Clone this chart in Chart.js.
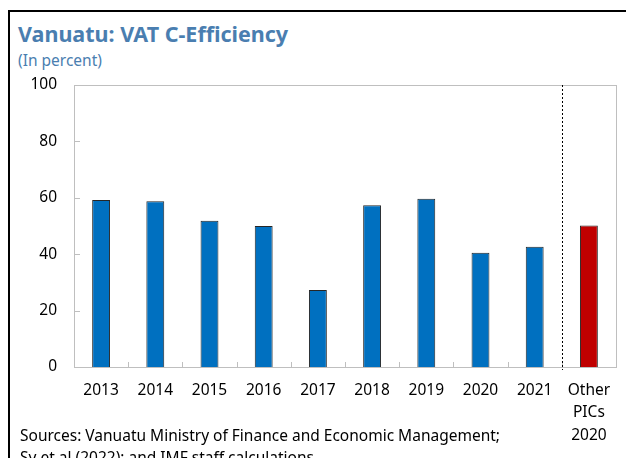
<!DOCTYPE html>
<html>
<head>
<meta charset="utf-8">
<script src="https://cdn.jsdelivr.net/npm/chart.js@4.4.1/dist/chart.umd.min.js"></script>
<style>
  html, body { margin: 0; padding: 0; background: #fff; overflow: hidden; width: 626px; height: 458px; }
  #wrap { position: relative; width: 626px; height: 458px; overflow: hidden; font-family: "Noto Sans", "Open Sans", sans-serif; }
  #frame { position: absolute; left: 8px; top: 10px; width: 700px; height: 600px; border-top: 2px solid #000; border-left: 2px solid #000; }
  #title { position: absolute; left: 18px; top: 19px; font-size: 21.5px; font-weight: bold; color: #4a7eb0; white-space: nowrap; }
  #subtitle { position: absolute; left: 18px; top: 49px; font-size: 15.5px; color: #4a7eb0; white-space: nowrap; }
  #sources { position: absolute; left: 20px; top: 424px; font-size: 15.5px; line-height: 22px; color: #000; white-space: nowrap; }
  canvas { position: absolute; left: 0; top: 0; }
</style>
</head>
<body>
<div id="wrap">
  <div id="frame"></div>
  <div id="title">Vanuatu: VAT C-Efficiency</div>
  <div id="subtitle">(In percent)</div>
  <canvas id="c" width="626" height="458"></canvas>
  <div id="sources">Sources: Vanuatu Ministry of Finance and Economic Management;<br>Sy et al (2022); and IMF staff calculations.</div>
</div>
<script>
const categories = ["2013", "2014", "2015", "2016", "2017", "2018", "2019", "2020", "2021", ["Other", "PICs", "2020"]];
const cEfficiency = [59.2, 58.8, 51.9, 50.0, 27.3, 57.4, 59.7, 40.5, 42.6, 50.2];
const yTicks = [0, 20, 40, 60, 80, 100];
const comparisonIndex = categories.length - 1;

const frameAndTicks = {
  id: 'frameAndTicks',
  afterDraw(chart) {
    const { ctx, chartArea: a, scales: { x, y } } = chart;
    ctx.save();
    ctx.strokeStyle = '#bfbfbf';
    ctx.lineWidth = 1;
    yTicks.forEach(v => {
      const py = Math.round(y.getPixelForValue(v)) + 0.5;
      ctx.beginPath(); ctx.moveTo(a.left, py); ctx.lineTo(a.left + 6, py); ctx.stroke();
    });
    for (let i = 1; i < categories.length; i++) {
      const px = Math.round((x.getPixelForValue(i - 1) + x.getPixelForValue(i)) / 2) + 0.5;
      ctx.beginPath(); ctx.moveTo(px, a.bottom); ctx.lineTo(px, a.bottom - 5); ctx.stroke();
    }
    ctx.strokeRect(Math.round(a.left) + 0.5, Math.round(a.top) + 0.5, Math.round(a.right - a.left), Math.round(a.bottom - a.top));
    const dx = Math.round((x.getPixelForValue(comparisonIndex - 1) + x.getPixelForValue(comparisonIndex)) / 2) + 0.5;
    ctx.strokeStyle = '#000';
    ctx.setLineDash([2, 2]);
    ctx.beginPath(); ctx.moveTo(dx, a.top); ctx.lineTo(dx, a.bottom + 3); ctx.stroke();
    ctx.restore();
  }
};

new Chart(document.getElementById('c'), {
  type: 'bar',
  data: {
    labels: categories,
    datasets: [{
      data: cEfficiency,
      backgroundColor: c => c.dataIndex === comparisonIndex ? '#c00000' : '#0070c0',
      borderColor: '#262626',
      borderWidth: 1,
      borderSkipped: 'bottom',
      categoryPercentage: 1.0,
      barPercentage: 0.33
    }]
  },
  options: {
    responsive: false,
    animation: false,
    devicePixelRatio: 1,
    layout: { padding: { left: 10, right: 10, top: 85, bottom: 0 } },
    plugins: { legend: { display: false }, tooltip: { enabled: false }, title: { display: false } },
    scales: {
      x: {
        grid: { display: false, drawTicks: false },
        border: { display: false },
        ticks: { color: '#000', padding: 12, maxRotation: 0, autoSkip: false,
                 font: { family: '"Noto Sans", "Open Sans", sans-serif', size: 15.5, lineHeight: 1.45 } },
        afterFit: s => { s.height = 91; }
      },
      y: {
        min: 0, max: 100,
        afterBuildTicks: s => { s.ticks = yTicks.map(v => ({ value: v })); },
        grid: { display: false, drawTicks: false },
        border: { display: false },
        ticks: { color: '#000', padding: 17,
                 font: { family: '"Noto Sans", "Open Sans", sans-serif', size: 15.5 } },
        afterFit: s => { s.width = 64; }
      }
    }
  },
  plugins: [frameAndTicks]
});
</script>
</body>
</html>
